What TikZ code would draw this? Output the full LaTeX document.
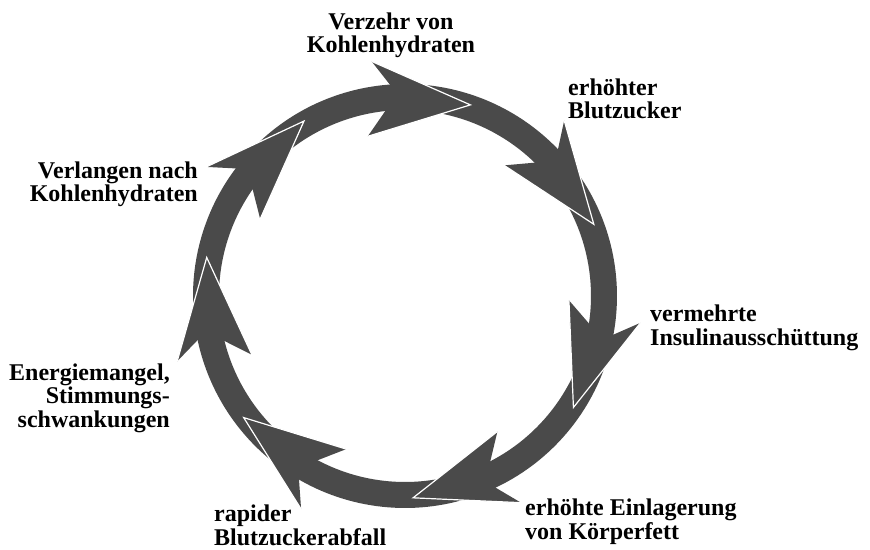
\documentclass[tikz,border=0pt]{standalone}
\usepackage{fontspec}
\setmainfont{Liberation Serif}
\usetikzlibrary{positioning}
\definecolor{ringgray}{HTML}{4A4A4A}

\begin{document}
\begin{tikzpicture}[x=1pt,y=1pt,
    shaft/.style={fill=ringgray},
    head/.style={fill=ringgray},
    rim/.style={draw=white,line width=1.2pt},
    label/.style={font=\fontsize{24}{23.5}\selectfont\bfseries,inner sep=0pt}
]
\useasboundingbox (-405,-253) rectangle (465,296);
% shafts of the ring, tail hidden under the previous head
\foreach \t/\p in {71.1/120,20.8/71.1,-33.5/20.8,-87.7/-33.5,-143/-87.7,-191/-143,-240/-191}
  \fill[shaft] (\p+16:212) arc[start angle=\p+16,end angle=\t+22,radius=212]
    -- (\t+22:186) arc[start angle=\t+22,end angle=\p+16,radius=186] -- cycle;
% heads on top
\foreach \t in {71.1,20.8,-33.5,-87.7,-143,-191,-240}{
  \fill[head] (\t:202) -- (\t+27:237) -- (\t+23:212) -- (\t+25:186) -- (\t+32:164) -- cycle;
  \draw[rim] (\t+27:237) -- (\t:202) -- (\t+32:164);
}
\node[label,anchor=base,align=center] (intake) at (-14,243) {Verzehr von\\Kohlenhydraten};
\node[label,anchor=base west,align=left] (sugar) at (163,177) {erhöhter\\Blutzucker};
\node[label,anchor=base west,align=left] (insulin) at (245,-49) {vermehrte\\Insulinausschüttung};
\node[label,anchor=base west,align=left] (fat) at (120,-243) {erhöhte Einlagerung\\von Körperfett};
\node[label,anchor=base west,align=left] (drop) at (-191,-249) {rapider\\Blutzuckerabfall};
\node[label,anchor=base east,align=right] (mood) at (-235,-131) {Energiemangel,\\Stimmungs-\\schwankungen};
\node[label,anchor=base east,align=right] (craving) at (-207,94) {Verlangen nach\\Kohlenhydraten};
\end{tikzpicture}
\end{document}
